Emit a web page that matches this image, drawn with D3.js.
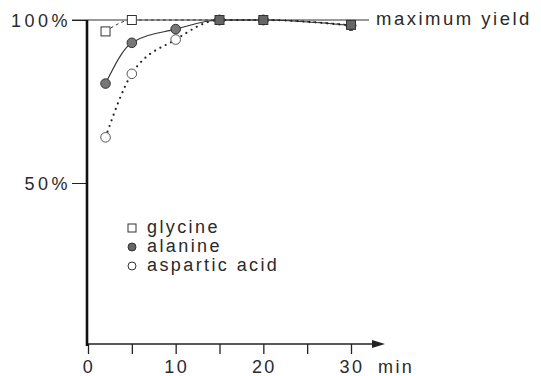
<!DOCTYPE html>
<html>
<head>
<meta charset="utf-8">
<script src="https://cdn.jsdelivr.net/npm/d3@7"></script>
<style>
  body { margin: 0; background: #fff; }
  text { font-family: "Liberation Sans", Arial, sans-serif; fill: #2a2a2a; letter-spacing: 2.4px; }
</style>
</head>
<body>
<svg id="canvas" width="541" height="376"></svg>
<script>
var glyTimes = [2, 5, 15, 20, 30];
var glyValues = [96.5, 100, 100, 100, 98.5];
var alaTimes = [2, 5, 10, 15, 20, 30];
var alaValues = [80.5, 93, 97.2, 100, 100, 98.3];
var aspTimes = [2, 5, 10, 15, 20, 30];
var aspValues = [64, 83.5, 94, 100, 100, 98.3];
var xTicks = [0, 5, 10, 15, 20, 25, 30];
var xLabels = [0, 10, 20, 30];
var yTicks = [50, 100];

var svg = d3.select('#canvas');
var x = d3.scaleLinear().domain([0, 30]).range([88, 351]);
var y = d3.scaleLinear().domain([0, 100]).range([346, 20]);

function pts(t, v) {
  return t.map(function(d, i) { return {t: d, v: v[i]}; });
}
var gly = pts(glyTimes, glyValues);
var ala = pts(alaTimes, alaValues);
var asp = pts(aspTimes, aspValues);

var line = d3.line()
  .x(function(d) { return x(d.t); })
  .y(function(d) { return y(d.v); })
  .curve(d3.curveMonotoneX);

// maximum yield line
svg.append('line')
  .attr('x1', 72).attr('x2', 369)
  .attr('y1', y(100)).attr('y2', y(100))
  .style('stroke', '#333').style('stroke-width', 1);
svg.append('text')
  .attr('x', 376).attr('y', 25)
  .style('font-size', '18.5px')
  .style('letter-spacing', '2.5px')
  .text('maximum yield');

// axes
var xAxis = svg.append('g')
  .attr('transform', 'translate(0,344)')
  .call(d3.axisBottom(x).tickValues(xTicks).tickSize(10).tickFormat(''));
xAxis.select('.domain').remove();
xAxis.selectAll('line').style('stroke', '#222').style('stroke-width', 1.3);
svg.append('line')
  .attr('x1', 87).attr('x2', 376).attr('y1', 344).attr('y2', 344)
  .style('stroke', '#222').style('stroke-width', 1.6);
svg.append('path')
  .attr('d', 'M372,340 L385,344 L372,348 Z')
  .style('fill', '#222');

xAxis.selectAll('.tl')
  .data(xLabels)
  .enter()
  .append('text')
  .attr('x', function(d) { return x(d) + 1; })
  .attr('y', 29)
  .attr('text-anchor', 'middle')
  .style('font-size', '18px')
  .text(function(d) { return d; });
svg.append('text')
  .attr('x', 378).attr('y', 373)
  .style('font-size', '18px')
  .text('min');

var yAxis = svg.append('g')
  .attr('transform', 'translate(87,0)')
  .call(d3.axisLeft(y).tickValues(yTicks).tickSize(15).tickFormat(function(d) { return d + '%'; }));
yAxis.select('.domain').remove();
yAxis.selectAll('line').style('stroke', '#222');
yAxis.selectAll('text')
  .attr('x', -16)
  .attr('dy', '0.35em')
  .style('font-size', '18px')
  .style('letter-spacing', '3.5px')
  .style('font-family', '"Liberation Sans", Arial, sans-serif')
  .style('fill', '#2a2a2a');
svg.append('line')
  .attr('x1', 87).attr('x2', 87).attr('y1', 20).attr('y2', 346)
  .style('stroke', '#111').style('stroke-width', 2.6);

// curves
svg.append('path').datum(gly).attr('d', line)
  .style('fill', 'none').style('stroke', '#333').style('stroke-width', 1)
  .style('stroke-dasharray', '3,3');
svg.append('path').datum(ala).attr('d', line)
  .style('fill', 'none').style('stroke', '#333').style('stroke-width', 1.1);
svg.append('path').datum(asp).attr('d', line)
  .style('fill', 'none').style('stroke', '#222').style('stroke-width', 2.2)
  .style('stroke-linecap', 'round').style('stroke-dasharray', '0,6');

// markers
svg.selectAll('.asp').data(asp).enter().append('circle')
  .attr('cx', function(d) { return x(d.t); })
  .attr('cy', function(d) { return y(d.v); })
  .attr('r', 4.8)
  .style('fill', '#fff').style('stroke', '#555').style('stroke-width', 1);
svg.selectAll('.ala').data(ala).enter().append('circle')
  .attr('cx', function(d) { return x(d.t); })
  .attr('cy', function(d) { return y(d.v); })
  .attr('r', 4.8)
  .style('fill', '#777').style('stroke', '#333').style('stroke-width', 1);
svg.selectAll('.gly').data(gly).enter().append('rect')
  .attr('x', function(d) { return x(d.t) - 4.5; })
  .attr('y', function(d) { return y(d.v) - 4.5; })
  .attr('width', 9).attr('height', 9)
  .style('fill', function(d) { return d.t > 10 ? '#666' : '#fff'; })
  .style('stroke', '#333').style('stroke-width', 1);

// legend
var legend = [
  {name: 'glycine', shape: 'square'},
  {name: 'alanine', shape: 'filled'},
  {name: 'aspartic acid', shape: 'open'}
];
var lg = svg.selectAll('.lg').data(legend).enter().append('g')
  .attr('transform', function(d, i) { return 'translate(132,' + (228 + i * 19) + ')'; });
lg.filter(function(d) { return d.shape === 'square'; }).append('rect')
  .attr('x', -4).attr('y', -4).attr('width', 8).attr('height', 8)
  .style('fill', '#fff').style('stroke', '#333');
lg.filter(function(d) { return d.shape !== 'square'; }).append('circle')
  .attr('r', 4)
  .style('fill', function(d) { return d.shape === 'filled' ? '#666' : '#fff'; })
  .style('stroke', '#333');
lg.append('text')
  .attr('x', 15).attr('y', 5)
  .style('font-size', '18px')
  .text(function(d) { return d.name; });
</script>
</body>
</html>
